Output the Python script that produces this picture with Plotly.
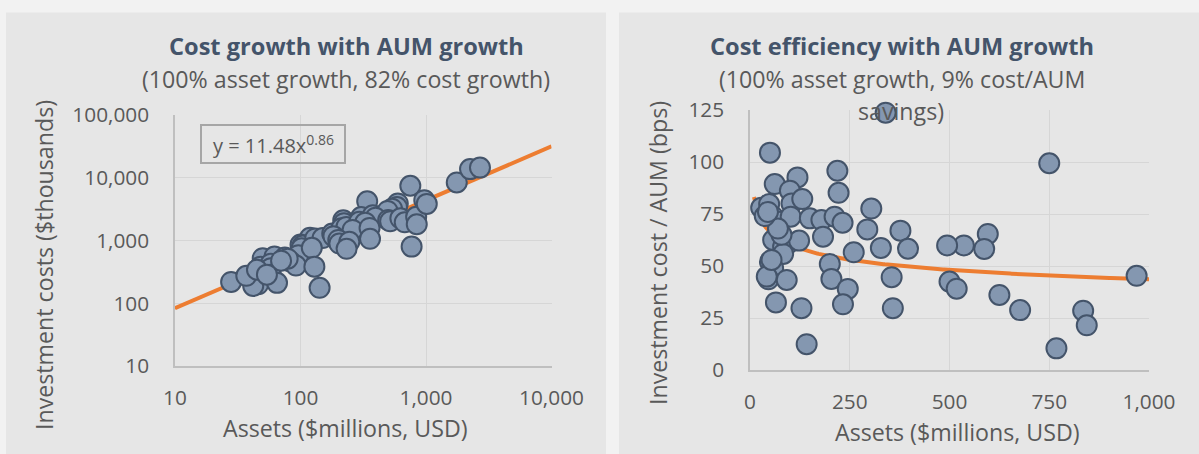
import numpy as np
import plotly.graph_objects as go

W, H = 1199, 454

# ---------------- data ----------------
# Assets ($millions, USD) and investment cost in basis points of AUM
assets = [340, 50, 750, 62, 119, 219, 222, 100, 28, 48, 104, 131, 304, 58, 75, 102,
          150, 179, 212, 232, 183, 294, 377, 596, 587, 536, 494, 396, 328, 260, 58,
          83, 96, 123, 83, 50, 58, 46, 92, 200, 204, 245, 233, 355, 358, 500, 518,
          625, 677, 835, 844, 768, 969, 65, 129, 142, 42, 79, 70, 37, 45, 54,
          1014, 1758, 2244, 2692]
cost_bps = [123.7, 104.5, 99.4, 89.4, 92.6, 95.8, 85.2, 86.2, 78.0, 79.8, 80.1, 82.2,
            77.6, 73.7, 71.3, 73.7, 72.9, 72.1, 73.7, 70.8, 64.1, 67.6, 67.0, 65.4,
            58.2, 59.9, 59.9, 58.3, 58.7, 56.6, 62.5, 59.3, 60.9, 62.2, 55.8, 52.1,
            48.9, 43.6, 43.3, 51.0, 43.8, 39.0, 31.6, 44.6, 29.7, 42.5, 39.1, 36.1,
            28.8, 28.5, 21.5, 10.4, 45.3, 32.5, 29.7, 12.4, 44.9, 65.0, 68.0, 74.0,
            76.0, 52.9, 37.8, 47.9, 61.2, 53.9]

# power trendline: cost($k) = coef * assets^expo
trend_coef = 11.48
trend_expo = 0.86

left_xtick_vals = [10, 100, 1000, 10000]
left_xtick_text = ["10", "100", "1,000", "10,000"]
left_ytick_vals = [10, 100, 1000, 10000, 100000]
left_ytick_text = ["10", "100", "1,000", "10,000", "100,000"]
right_xtick_vals = [0, 250, 500, 750, 1000]
right_xtick_text = ["0", "250", "500", "750", "1,000"]
right_ytick_vals = [0, 25, 50, 75, 100, 125]
right_ytick_text = ["0", "25", "50", "75", "100", "125"]

# ---------------- derived ----------------
a = np.array(assets, dtype=float)
bps = np.array(cost_bps, dtype=float)
cost_k = a * bps / 10.0          # $thousands
mask_r = a <= 1000

tx_left = np.logspace(1, 4, 200)
ty_left = trend_coef * tx_left ** trend_expo
tx_right = np.linspace(10, 1000, 300)
ty_right = 10 * trend_coef * tx_right ** (trend_expo - 1)

FONT = "Open Sans"
TXT = "#595959"
TITLE_C = "#44546a"
FILL = "#8497b0"
EDGE = "#44546a"
ORANGE = "#ed7d31"
GRID = "#d6d6d6"
AXL = "#bfbfbf"


def px(x):
    return x / W


def py(y):
    return 1 - y / H


fig = go.Figure()

marker = dict(size=20, color=FILL, line=dict(color=EDGE, width=2))

fig.add_trace(go.Scatter(x=tx_left, y=ty_left, mode="lines",
                         line=dict(color=ORANGE, width=4), xaxis="x", yaxis="y",
                         hoverinfo="skip"))
fig.add_trace(go.Scatter(x=a, y=cost_k, mode="markers", marker=marker,
                         xaxis="x", yaxis="y", cliponaxis=False))
fig.add_trace(go.Scatter(x=tx_right, y=ty_right, mode="lines",
                         line=dict(color=ORANGE, width=4), xaxis="x2", yaxis="y2",
                         hoverinfo="skip"))
fig.add_trace(go.Scatter(x=a[mask_r], y=bps[mask_r], mode="markers", marker=marker,
                         xaxis="x2", yaxis="y2", cliponaxis=False))

tickfont = dict(family=FONT, size=20.8, color=TXT)
common = dict(showgrid=True, gridcolor=GRID, gridwidth=1.3, showline=True,
              linecolor=AXL, linewidth=1.5, ticks="", tickfont=tickfont,
              zeroline=False, fixedrange=True, automargin=False)

fig.update_layout(
    width=W, height=H,
    autosize=False,
    margin=dict(l=0, r=0, t=0, b=0, pad=0, autoexpand=False),
    paper_bgcolor="#f2f2f2",
    plot_bgcolor="rgba(0,0,0,0)",
    showlegend=False,
    xaxis=dict(domain=[px(175), px(551.5)], type="log", range=[1, 4],
               tickvals=left_xtick_vals, ticktext=left_xtick_text,
               anchor="y", ticklabelstandoff=12, **common),
    yaxis=dict(domain=[py(366), py(115)], type="log", range=[1, 5],
               tickvals=left_ytick_vals, ticktext=left_ytick_text,
               anchor="x", ticklabelstandoff=20, **common),
    xaxis2=dict(domain=[px(750), px(1149)], range=[0, 1000],
                tickvals=right_xtick_vals, ticktext=right_xtick_text,
                anchor="y2", ticklabelstandoff=12, **common),
    yaxis2=dict(domain=[py(370), py(110)], range=[0, 125],
                tickvals=right_ytick_vals, ticktext=right_ytick_text,
                anchor="x2", ticklabelstandoff=20, **common),
    shapes=[
        dict(type="rect", xref="paper", yref="paper", x0=px(6), x1=px(606),
             y0=0, y1=py(12.6), fillcolor="#e6e6e6", line=dict(width=0), layer="below"),
        dict(type="rect", xref="paper", yref="paper", x0=px(619), x1=1,
             y0=0, y1=py(12.6), fillcolor="#e6e6e6", line=dict(width=0), layer="below"),
        dict(type="rect", xref="paper", yref="paper", x0=px(201), x1=px(345),
             y0=py(163), y1=py(125), fillcolor="rgba(0,0,0,0)",
             line=dict(color="#a6a6a6", width=2), layer="above"),
    ],
)

ann = []


def text(x, y, s, size=20, color=TXT, bold=False, angle=0):
    ann.append(dict(x=px(x), y=py(y), xref="paper", yref="paper", text=s,
                    showarrow=False, textangle=angle, xanchor="center",
                    yanchor="middle",
                    font=dict(family=FONT, size=size, color=color,
                              weight="bold" if bold else "normal")))


text(346, 46, "Cost growth with AUM growth", size=23.6, color=TITLE_C, bold=True)
text(346, 79, "(100% asset growth, 82% cost growth)", size=23.2)
text(902, 46, "Cost efficiency with AUM growth", size=23.6, color=TITLE_C, bold=True)
text(902, 79, "(100% asset growth, 9% cost/AUM", size=23.2)
text(901, 111, "savings)", size=23.2)
text(345, 428, "Assets ($millions, USD)", size=23.2)
text(957, 432, "Assets ($millions, USD)", size=23.2)
text(44, 265, "Investment costs ($thousands)", size=23.2, angle=-90)
text(658, 253, "Investment cost / AUM (bps)", size=23.2, angle=-90)
text(273, 144, "y = 11.48x<sup>0.86</sup>", size=20)

fig.update_layout(annotations=ann)

post = "document.body.style.margin='0';document.documentElement.style.overflow='hidden';"
fig.write_html("out.html", post_script=post, config={"displayModeBar": False})
